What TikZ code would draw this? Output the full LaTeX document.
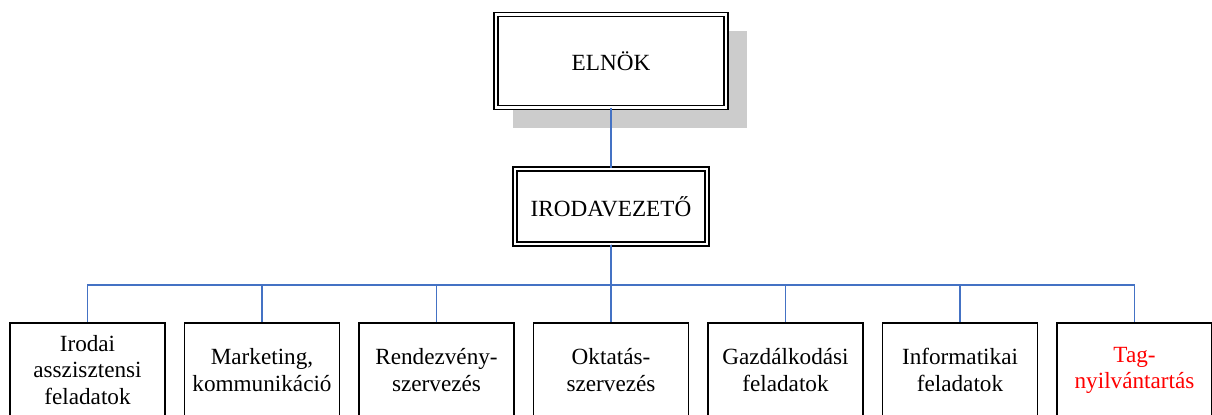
\documentclass[tikz,border=0pt]{standalone}
\usepackage{fontspec}
\setmainfont{Liberation Serif}
\begin{document}
\begin{tikzpicture}[x=0.02cm,y=-0.02cm,
  every node/.style={font=\fontsize{13.2}{14.9}\selectfont},
  dblbox/.style={draw=black, line width=0.7pt, double=white, double distance=1.6pt, fill=white, align=center, inner sep=0pt},
  unitbox/.style={draw=black, line width=0.75pt, fill=white, align=center, inner sep=0pt, minimum width=3.1cm, minimum height=1.88cm}]
\useasboundingbox (0,0) rectangle (1212,414);
\definecolor{lineblue}{HTML}{4472C4}
\tikzset{conn/.style={draw=lineblue, line width=0.6pt}}
% shadow
\fill[black!20] (513,31) rectangle (747,128);
% top boxes
\node[dblbox, minimum width=4.6cm, minimum height=1.86cm] (eln) at (611,61) {ELNÖK};
\node[dblbox, minimum width=3.84cm, minimum height=1.5cm] (iv) at (611,206.5) {IRODAVEZETŐ};
% bottom boxes
\node[unitbox] (b1) at (87.5,370) {Irodai\\asszisztensi\\feladatok};
\node[unitbox] (b2) at (262,370) {Marketing,\\kommunikáció};
\node[unitbox] (b3) at (436.5,370) {Rendezvény-\\szervezés};
\node[unitbox] (b4) at (611,370) {Oktatás-\\szervezés};
\node[unitbox] (b5) at (785.5,370) {Gazdálkodási\\feladatok};
\node[unitbox] (b6) at (960,370) {Informatikai\\feladatok};
\node[unitbox, text=red] (b7) at (1134.5,370) {Tag-\\nyilvántartás};
\coordinate (bus) at (611,285);
% connectors
\draw[conn] (eln.south) -- (iv.north);
\foreach \b in {b1,b2,b3,b4,b5,b6,b7}{
  \draw[conn] (iv.south) -- (bus) -| (\b.north);
}
\end{tikzpicture}
\end{document}
